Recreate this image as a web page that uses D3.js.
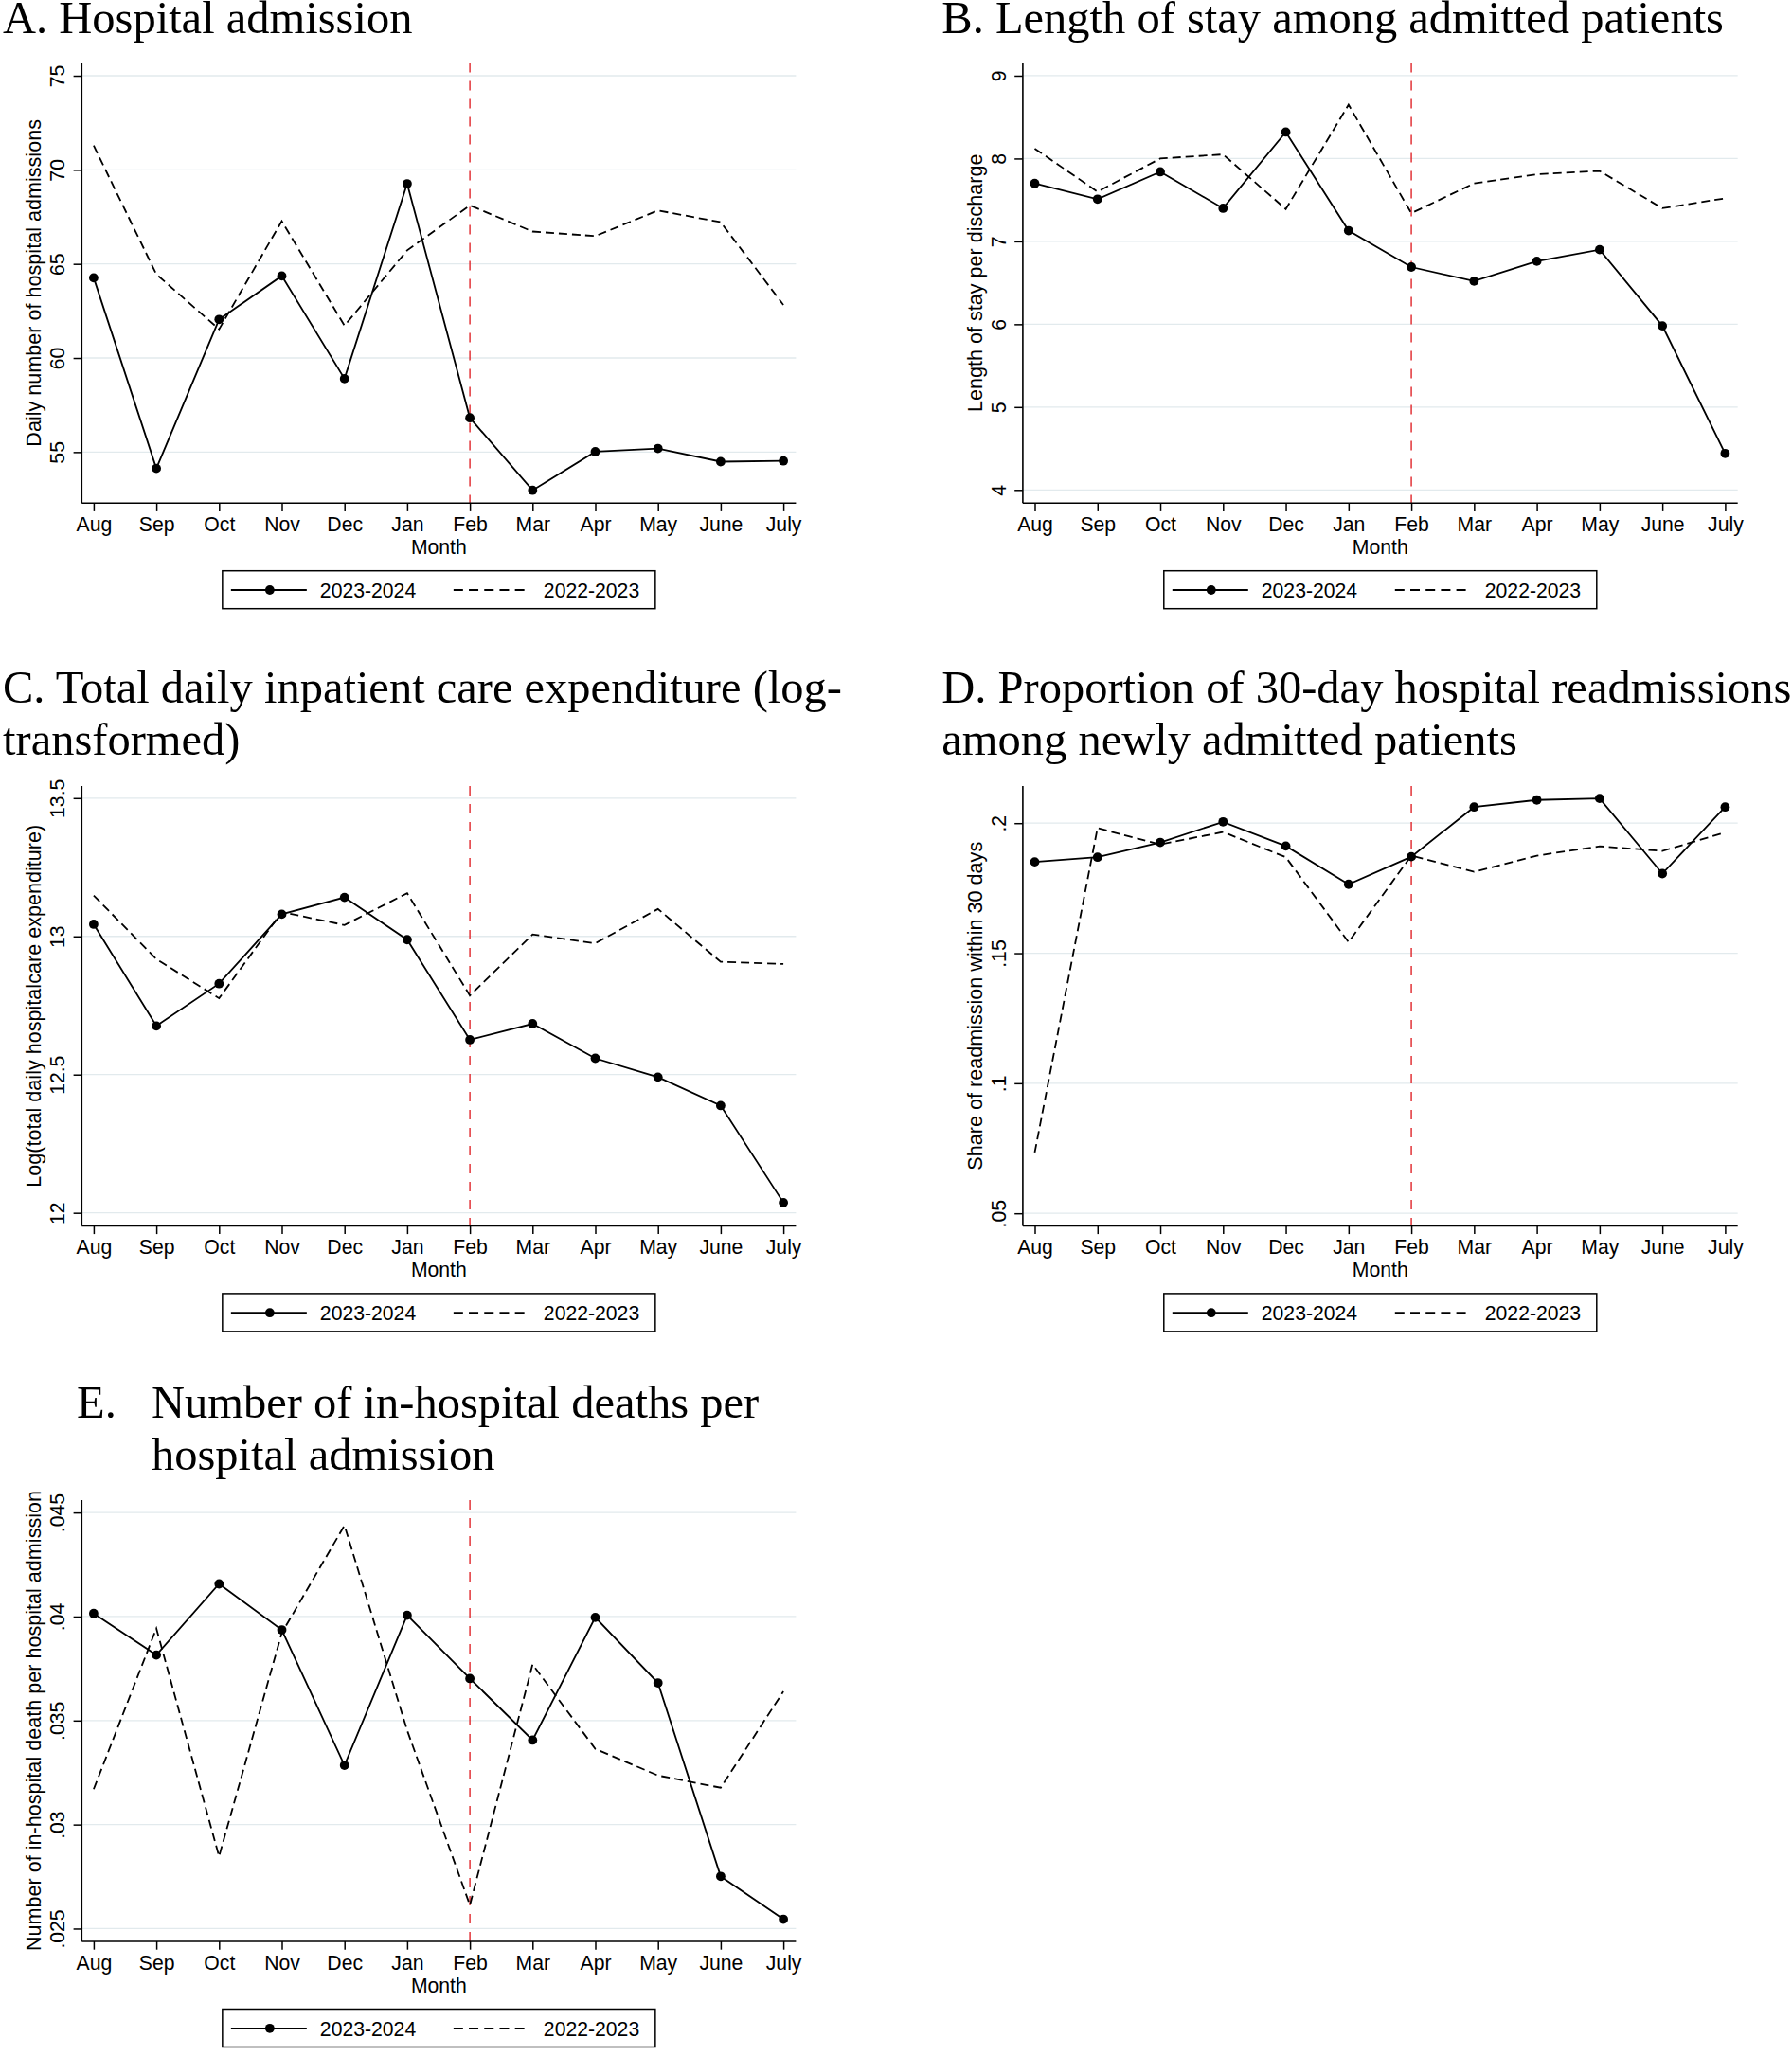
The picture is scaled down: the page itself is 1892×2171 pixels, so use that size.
<!DOCTYPE html>
<html>
<head>
<meta charset="utf-8">
<script src="https://cdn.jsdelivr.net/npm/d3@7"></script>
<style>
  html, body { margin: 0; padding: 0; background: #fff; }
  svg { display: block; }
</style>
</head>
<body>
<script>
// ---------------- DATA ----------------
const months = ["Aug", "Sep", "Oct", "Nov", "Dec", "Jan", "Feb", "Mar", "Apr", "May", "June", "July"];
const seriesNames = ["2023-2024", "2022-2023"];
const cutoffMonth = "Feb";
const xAxisTitle = "Month";

// A. Hospital admission
const admit2324 = [64.26, 54.13, 62.05, 64.36, 58.90, 69.26, 56.82, 52.97, 55.02, 55.19, 54.49, 54.53];
const admit2223 = [71.29, 64.45, 61.53, 67.27, 61.72, 65.72, 68.11, 66.72, 66.48, 67.84, 67.22, 62.82];
const admitTicks = [55, 60, 65, 70, 75];
const admitRange = [52.29, 75.68];

// B. Length of stay
const los2324 = [7.70, 7.51, 7.84, 7.40, 8.32, 7.13, 6.69, 6.52, 6.76, 6.90, 5.98, 4.44];
const los2223 = [8.12, 7.60, 8.00, 8.05, 7.39, 8.65, 7.34, 7.70, 7.81, 7.85, 7.40, 7.52];
const losTicks = [4, 5, 6, 7, 8, 9];
const losRange = [3.841, 9.154];

// C. Log total daily expenditure
const exp2324 = [13.044, 12.676, 12.829, 13.080, 13.141, 12.988, 12.626, 12.684, 12.559, 12.491, 12.388, 12.037];
const exp2223 = [13.148, 12.918, 12.776, 13.088, 13.041, 13.156, 12.786, 13.007, 12.975, 13.099, 12.908, 12.900];
const expTicks = [12, 12.5, 13, 13.5];
const expRange = [11.953, 13.5435];

// D. 30-day readmission share
const readm2324 = [0.1851, 0.1869, 0.1926, 0.2005, 0.1912, 0.1765, 0.1871, 0.2062, 0.2089, 0.2095, 0.1806, 0.2062];
const readm2223 = [0.0734, 0.1981, 0.1918, 0.1966, 0.1869, 0.1543, 0.1875, 0.1813, 0.1875, 0.1911, 0.1893, 0.1964];
const readmTicks = [0.05, 0.1, 0.15, 0.2];
const readmRange = [0.04519, 0.21424];

// E. In-hospital deaths per admission
const death2324 = [0.04015, 0.03815, 0.04157, 0.03936, 0.03285, 0.04006, 0.03702, 0.03406, 0.03996, 0.03681, 0.02751, 0.02545];
const death2223 = [0.0317, 0.03943, 0.02847, 0.03921, 0.04438, 0.03453, 0.02613, 0.0377, 0.03364, 0.03236, 0.03177, 0.0364];
const deathTicks = [0.025, 0.03, 0.035, 0.04, 0.045];
const deathRange = [0.024384, 0.045598];

// ---------------- LAYOUT ----------------
const W = 1892, H = 2171;
const colAxisX = [86.3, 1079.9];
const colRightX = [840.4, 1834.7];
const firstPt = 12.6, lastPtGap = 13.3;
const rowTop = [66.5, 830.1, 1584];
const rowBottom = [531.2, 1294.4, 2050];

const SANS = "'Liberation Sans', Arial, Helvetica, sans-serif";
const SERIF = "'Liberation Serif', 'Times New Roman', Times, serif";
const TICK_FS = 21.2, YTITLE_FS = 21.6, TITLE_FS = 48.5;
const dotFmt = d => String(d).replace(/^0\./, ".");

const panels = [
  { col: 0, row: 0, s1: admit2324, s2: admit2223, ticks: admitTicks, range: admitRange, fmt: d => String(d),
    ytitle: "Daily number of hospital admissions",
    title: [{ x: 3, y: 35, t: "A. Hospital admission" }] },
  { col: 1, row: 0, s1: los2324, s2: los2223, ticks: losTicks, range: losRange, fmt: d => String(d),
    ytitle: "Length of stay per discharge",
    title: [{ x: 994.3, y: 35, t: "B. Length of stay among admitted patients" }] },
  { col: 0, row: 1, s1: exp2324, s2: exp2223, ticks: expTicks, range: expRange, fmt: d => String(d),
    ytitle: "Log(total daily hospitalcare expenditure)",
    title: [{ x: 3, y: 742, t: "C. Total daily inpatient care expenditure (log-" },
            { x: 3, y: 797, t: "transformed)" }] },
  { col: 1, row: 1, s1: readm2324, s2: readm2223, ticks: readmTicks, range: readmRange, fmt: dotFmt,
    ytitle: "Share of readmission within 30 days",
    title: [{ x: 994.3, y: 742, t: "D. Proportion of 30-day hospital readmissions" },
            { x: 994.3, y: 797, t: "among newly admitted patients" }] },
  { col: 0, row: 2, s1: death2324, s2: death2223, ticks: deathTicks, range: deathRange, fmt: dotFmt,
    ytitle: "Number of in-hospital death per hospital admission",
    title: [{ x: 81, y: 1496.7, t: "E." },
            { x: 160, y: 1496.7, t: "Number of in-hospital deaths per" },
            { x: 160, y: 1551.7, t: "hospital admission" }] }
];

// ---------------- DRAW ----------------
const svg = d3.select("body").append("svg").attr("width", W).attr("height", H);
svg.append("rect").attr("width", W).attr("height", H).attr("fill", "#fff");

panels.forEach(p => {
  const ax = colAxisX[p.col], rx = colRightX[p.col];
  const top = rowTop[p.row], bot = rowBottom[p.row];
  const g = svg.append("g");

  // titles
  p.title.forEach(t => {
    g.append("text").attr("x", t.x).attr("y", t.y)
      .attr("font-family", SERIF).attr("font-size", TITLE_FS).attr("fill", "#000").text(t.t);
  });

  const x = d3.scalePoint().domain(months).range([ax + firstPt, rx - lastPtGap]);
  const y = d3.scaleLinear().domain(p.range).range([bot, top]);

  // gridlines
  g.append("g").selectAll("line").data(p.ticks).join("line")
    .attr("x1", ax).attr("x2", rx)
    .attr("y1", d => y(d)).attr("y2", d => y(d))
    .attr("stroke", "#e2eaed").attr("stroke-width", 1.3);

  // cutoff line
  g.append("line")
    .attr("x1", x(cutoffMonth)).attr("x2", x(cutoffMonth))
    .attr("y1", top).attr("y2", bot)
    .attr("stroke", "#e0262b").attr("stroke-width", 1.4)
    .attr("stroke-dasharray", "10,9");

  const line = d3.line().x((d, i) => x(months[i])).y(d => y(d));

  // 2022-2023 dashed
  g.append("path").datum(p.s2).attr("d", line)
    .attr("fill", "none").attr("stroke", "#000").attr("stroke-width", 1.8)
    .attr("stroke-dasharray", "9,5");

  // 2023-2024 solid with markers
  g.append("path").datum(p.s1).attr("d", line)
    .attr("fill", "none").attr("stroke", "#000").attr("stroke-width", 1.8);
  g.append("g").selectAll("circle").data(p.s1).join("circle")
    .attr("cx", (d, i) => x(months[i])).attr("cy", d => y(d)).attr("r", 4.9)
    .attr("fill", "#000");

  // Y axis
  const yAxis = g.append("g").attr("transform", `translate(${ax},0)`)
    .call(d3.axisLeft(y).tickValues(p.ticks).tickSize(8.7).tickFormat(p.fmt));
  yAxis.select(".domain").remove();
  yAxis.selectAll(".tick line").attr("stroke", "#000").attr("stroke-width", 1.5);
  yAxis.selectAll(".tick text")
    .attr("x", null).attr("dy", null)
    .attr("text-anchor", "middle")
    .attr("font-family", SANS).attr("font-size", TICK_FS).attr("fill", "#000")
    .attr("transform", "translate(-18,0) rotate(-90)");
  g.append("line").attr("x1", ax).attr("x2", ax).attr("y1", top).attr("y2", bot)
    .attr("stroke", "#000").attr("stroke-width", 1.6);

  // Y title
  const cy = (top + bot) / 2;
  g.append("text")
    .attr("transform", `translate(${ax - 43},${cy}) rotate(-90)`)
    .attr("text-anchor", "middle")
    .attr("font-family", SANS).attr("font-size", YTITLE_FS).attr("fill", "#000")
    .text(p.ytitle);

  // X axis
  const xAxis = g.append("g").attr("transform", `translate(0,${bot})`)
    .call(d3.axisBottom(x).tickSize(8.7));
  xAxis.select(".domain").remove();
  xAxis.selectAll(".tick line").attr("stroke", "#000").attr("stroke-width", 1.5);
  xAxis.selectAll(".tick text")
    .attr("y", 30).attr("dy", null)
    .attr("font-family", SANS).attr("font-size", TICK_FS).attr("fill", "#000");
  g.append("line").attr("x1", ax).attr("x2", rx).attr("y1", bot).attr("y2", bot)
    .attr("stroke", "#000").attr("stroke-width", 1.6);

  const cx = (ax + rx) / 2;
  g.append("text").attr("x", cx).attr("y", bot + 53.5)
    .attr("text-anchor", "middle")
    .attr("font-family", SANS).attr("font-size", TICK_FS).attr("fill", "#000")
    .text(xAxisTitle);

  // Legend
  const lw = 457, lh = 40;
  const lx = cx - lw / 2, ly = bot + 71.5;
  const lg = g.append("g").attr("transform", `translate(${lx},${ly})`);
  lg.append("rect").attr("width", lw).attr("height", lh)
    .attr("fill", "#fff").attr("stroke", "#000").attr("stroke-width", 1.5);
  const my = 20.3;
  lg.append("line").attr("x1", 9).attr("x2", 89).attr("y1", my).attr("y2", my)
    .attr("stroke", "#000").attr("stroke-width", 1.8);
  lg.append("circle").attr("cx", 50).attr("cy", my).attr("r", 4.9).attr("fill", "#000");
  lg.append("text").attr("x", 103).attr("y", 28.3)
    .attr("font-family", SANS).attr("font-size", TICK_FS).attr("fill", "#000").text(seriesNames[0]);
  lg.append("line").attr("x1", 244).attr("x2", 325).attr("y1", my).attr("y2", my)
    .attr("stroke", "#000").attr("stroke-width", 1.8).attr("stroke-dasharray", "10,6.2");
  lg.append("text").attr("x", 339).attr("y", 28.3)
    .attr("font-family", SANS).attr("font-size", TICK_FS).attr("fill", "#000").text(seriesNames[1]);
});
</script>
</body>
</html>
